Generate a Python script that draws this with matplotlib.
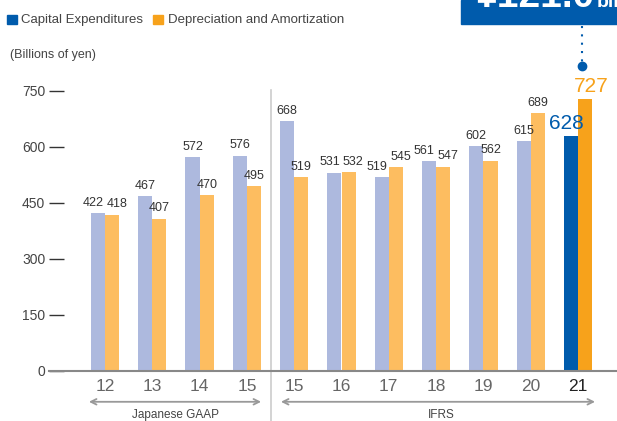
import numpy as np
import matplotlib.pyplot as plt
from matplotlib.patches import Rectangle

plt.rcParams['font.family'] = ['Liberation Sans', 'DejaVu Sans']

years = ['12', '13', '14', '15', '15', '16', '17', '18', '19', '20', '21']
capex = [422, 467, 572, 576, 668, 531, 519, 561, 602, 615, 628]
dep_amort = [418, 407, 470, 495, 519, 532, 545, 547, 562, 689, 727]

light_blue = '#adb9de'
light_orange = '#fdbd60'
dark_blue = '#005bac'
dark_orange = '#f7a21b'

W, H = 617, 421
fig = plt.figure(figsize=(W / 100, H / 100), dpi=100)
ax = fig.add_axes([49 / W, (H - 371) / H, (617 - 49) / W, (371 - 72) / H])

x = np.arange(len(years))
w = 0.3
cols_c = [light_blue] * (len(years) - 1) + [dark_blue]
cols_d = [light_orange] * (len(years) - 1) + [dark_orange]
ax.bar(x - w / 2, capex, width=w, color=cols_c)
ax.bar(x + w / 2, dep_amort, width=w, color=cols_d)

for i in range(len(years) - 1):
    # push labels apart when the two bars are nearly the same height
    off = 0.1 if abs(capex[i] - dep_amort[i]) < 30 else 0
    ax.text(x[i] - w / 2 - off, capex[i] + 12, str(capex[i]), ha='center', va='bottom', fontsize=9, color='#333333')
    ax.text(x[i] + w / 2 + off, dep_amort[i] + 12, str(dep_amort[i]), ha='center', va='bottom', fontsize=9, color='#333333')
ax.text(x[-1] - w / 2 - 0.09, capex[-1] + 8, str(capex[-1]), ha='center', va='bottom', fontsize=15, color=dark_blue)
ax.text(x[-1] + w / 2 + 0.12, dep_amort[-1] + 8, str(dep_amort[-1]), ha='center', va='bottom', fontsize=15, color=dark_orange)

ax.set_xlim((49 - 105) / 47.3, (617 - 105) / 47.3)
ax.set_ylim(0, 800)
ax.set_yticks([0, 150, 300, 450, 600, 750])
ax.set_xticks(x)
ax.set_xticklabels(years, fontsize=12.5, color='#666666')
ax.get_xticklabels()[-1].set_color('#222222')
ax.tick_params(axis='x', length=0, pad=6)

for s in ['top', 'right']:
    ax.spines[s].set_visible(False)
ax.spines['left'].set_position(('axes', (64 - 49) / 568))
ax.spines['left'].set_visible(False)
ax.spines['bottom'].set_color('#888888')
ax.spines['bottom'].set_linewidth(1.5)
ax.tick_params(axis='y', length=10.5, width=1.0, color='#333333', labelsize=10, labelcolor='#444444', pad=3)

# separator between accounting standards
xt = ax.get_xaxis_transform()
ax.plot([3.5, 3.5], [(371 - 90) / 299, -50 / 299], transform=xt, color='#cccccc', lw=1.2, clip_on=False)

# standard ranges
arrow = dict(arrowstyle='<->', color='#999999', lw=1.3, mutation_scale=10, shrinkA=0, shrinkB=0)
ax.annotate('', xy=(-0.34, -0.103), xytext=(3.30, -0.103), xycoords=xt, arrowprops=arrow, annotation_clip=False)
ax.annotate('', xy=(3.72, -0.103), xytext=(10.36, -0.103), xycoords=xt, arrowprops=arrow, annotation_clip=False)
ax.text(1.48, -0.148, 'Japanese GAAP', transform=xt, ha='center', va='center', fontsize=8.5, color='#444444')
ax.text(7.1, -0.148, 'IFRS', transform=xt, ha='center', va='center', fontsize=8.5, color='#444444')

# legend
fig.add_artist(Rectangle((7 / W, 1 - 24 / H), 10 / W, 9 / H, color=dark_blue, transform=fig.transFigure))
fig.text(21 / W, 1 - 20 / H, 'Capital Expenditures', fontsize=9.5, color='#444444', va='center')
fig.add_artist(Rectangle((153 / W, 1 - 24 / H), 10 / W, 9 / H, color=dark_orange, transform=fig.transFigure))
fig.text(168 / W, 1 - 20 / H, 'Depreciation and Amortization', fontsize=9.5, color='#444444', va='center')
fig.text(10 / W, 1 - 55 / H, '(Billions of yen)', fontsize=9, color='#444444', va='center')

# callout box
fig.add_artist(Rectangle((461 / W, 1 - 24 / H), 160 / W, 24 / H, color=dark_blue, transform=fig.transFigure))
fig.text(476 / W, 1 - 7 / H, '¥121.0', fontsize=28, fontweight='bold', color='white', va='baseline')
fig.text(597 / W, 1 - 7 / H, 'billion', fontsize=14, fontweight='bold', color='white', va='baseline')
fig.add_artist(plt.Line2D([582 / W, 582 / W], [1 - 26 / H, 1 - 64 / H], color=dark_blue, lw=1.5, ls=(0, (1, 3)), transform=fig.transFigure))
fig.add_artist(plt.Line2D([582 / W], [1 - 66 / H], marker='o', markersize=6, color=dark_blue, transform=fig.transFigure))

fig.savefig('out.png', dpi=100)
